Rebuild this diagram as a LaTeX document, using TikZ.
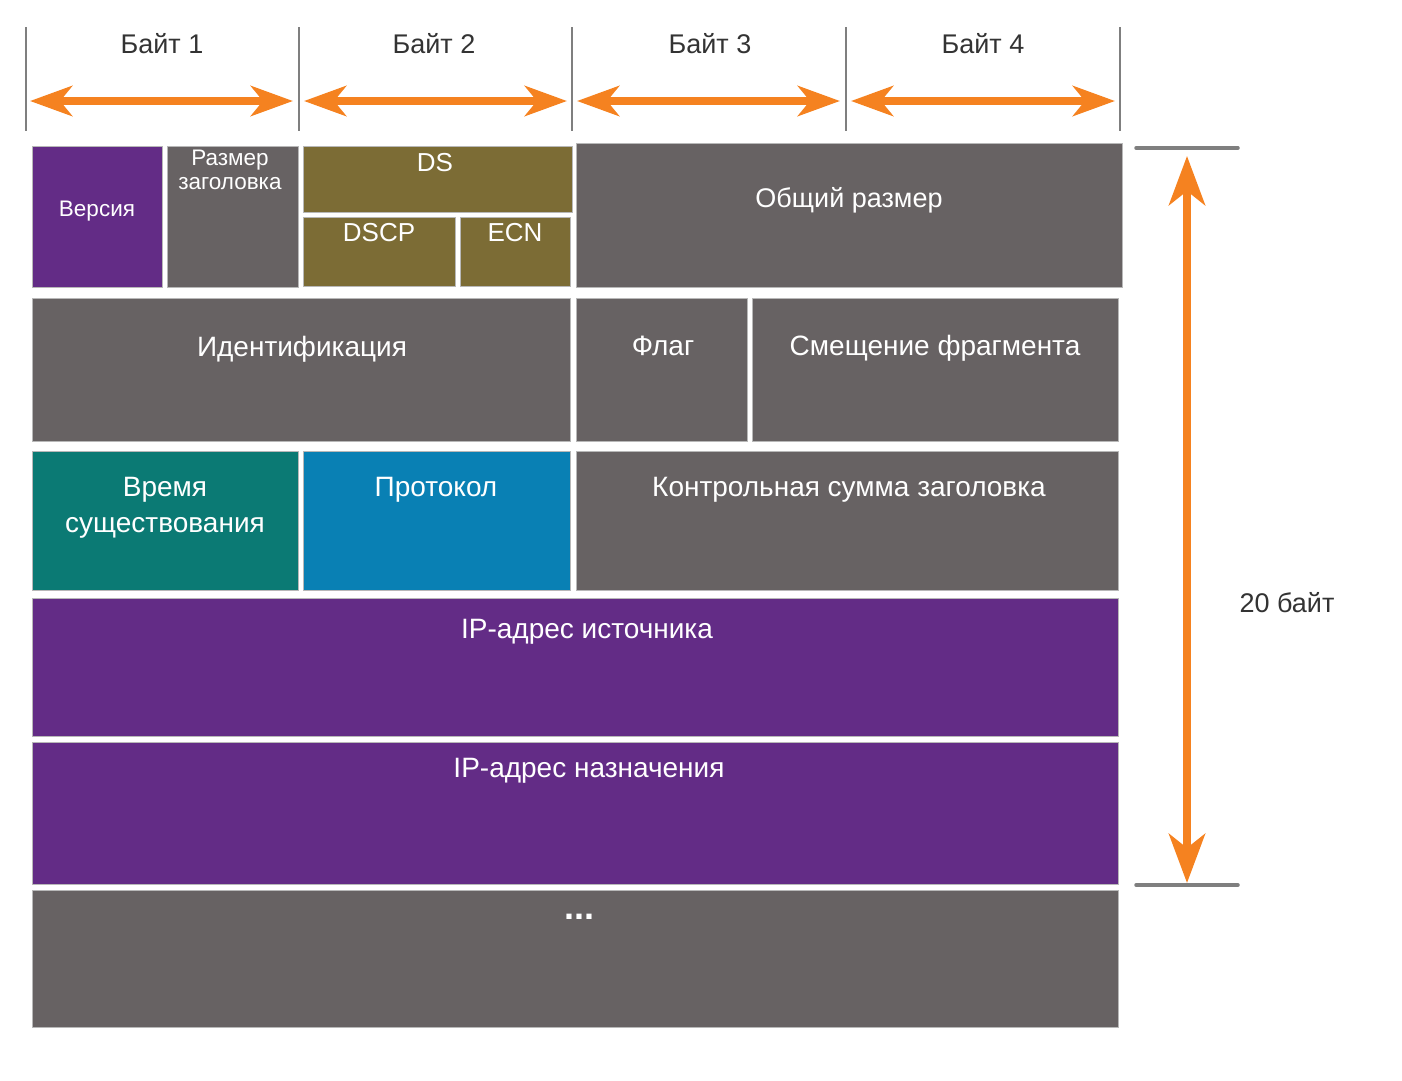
\documentclass[tikz,border=0pt]{standalone}
\usepackage{fontspec}
\setmainfont{Liberation Sans}
\usetikzlibrary{arrows.meta}
\definecolor{cpurple}{HTML}{632C86}
\definecolor{cgray}{HTML}{676263}
\definecolor{colive}{HTML}{7C6C35}
\definecolor{cteal}{HTML}{0B7A74}
\definecolor{cblue}{HTML}{0980B4}
\definecolor{corange}{HTML}{F58220}
\definecolor{ctick}{HTML}{7F7F7F}
\definecolor{ctext}{HTML}{333333}
\definecolor{cedge}{HTML}{B8B8B8}
\begin{document}
\begin{tikzpicture}[x=1pt,y=-1pt,
  cell/.style={draw=cedge, line width=0.8pt, inner sep=0pt, outer sep=0pt, anchor=north west},
  lbl/.style={text=white, anchor=base, inner sep=0pt, font=\fontsize{28}{32}\selectfont},
  smalllbl/.style={lbl, font=\fontsize{22.5}{26}\selectfont},
  dslbl/.style={lbl, font=\fontsize{26}{30}\selectfont},
  hdr/.style={text=ctext, anchor=base, inner sep=0pt, font=\fontsize{27}{32}\selectfont},
  tick/.style={draw=ctick, line width=2.5pt},
  sizeline/.style={draw=ctick, line width=3.5pt, line cap=round},
  bytearrow/.style={draw=corange, line width=8pt, {Stealth[length=42pt, width=30pt, inset=12pt]}-{Stealth[length=42pt, width=30pt, inset=12pt]}},
  sizearrow/.style={draw=corange, line width=8pt, {Stealth[length=49pt, width=36pt, inset=14pt]}-{Stealth[length=49pt, width=36pt, inset=14pt]}}
]
\useasboundingbox (0,0) rectangle (1402,1080);

% header ticks
\foreach \x [count=\i] in {26,299,572,846,1120} {
  \coordinate (tt\i) at (\x,27);
  \coordinate (tb\i) at (\x,131);
  \draw[tick] (tt\i) -- (tb\i);
}
% byte arrows
\coordinate (a1l) at (30,101);  \coordinate (a1r) at (293,101);
\coordinate (a2l) at (304,101); \coordinate (a2r) at (567,101);
\coordinate (a3l) at (577,101); \coordinate (a3r) at (840,101);
\coordinate (a4l) at (851,101); \coordinate (a4r) at (1115,101);
\draw[bytearrow] (a1l) -- (a1r);
\draw[bytearrow] (a2l) -- (a2r);
\draw[bytearrow] (a3l) -- (a3r);
\draw[bytearrow] (a4l) -- (a4r);
\node[hdr] (b1) at (162,53) {Байт 1};
\node[hdr] (b2) at (434,53) {Байт 2};
\node[hdr] (b3) at (710,53) {Байт 3};
\node[hdr] (b4) at (983,53) {Байт 4};

% cells
\node[cell, fill=cpurple, minimum width=130pt, minimum height=141pt] (ver)   at (32,146) {};
\node[cell, fill=cgray,   minimum width=131pt, minimum height=141pt] (hlen)  at (167,146) {};
\node[cell, fill=colive,  minimum width=269pt, minimum height=66pt]  (ds)    at (303,146) {};
\node[cell, fill=colive,  minimum width=152pt, minimum height=69pt]  (dscp)  at (303,217) {};
\node[cell, fill=colive,  minimum width=110pt, minimum height=69pt]  (ecn)   at (460,217) {};
\node[cell, fill=cgray,   minimum width=546pt, minimum height=144pt] (tot)   at (576,143) {};
\node[cell, fill=cgray,   minimum width=538pt, minimum height=143pt] (ident) at (32,298) {};
\node[cell, fill=cgray,   minimum width=171pt, minimum height=143pt] (flag)  at (576,298) {};
\node[cell, fill=cgray,   minimum width=366pt, minimum height=143pt] (frag)  at (752,298) {};
\node[cell, fill=cteal,   minimum width=266pt, minimum height=139pt] (ttl)   at (32,451) {};
\node[cell, fill=cblue,   minimum width=267pt, minimum height=139pt] (proto) at (303,451) {};
\node[cell, fill=cgray,   minimum width=542pt, minimum height=139pt] (csum)  at (576,451) {};
\node[cell, fill=cpurple, minimum width=1086pt, minimum height=138pt] (src) at (32,598) {};
\node[cell, fill=cpurple, minimum width=1086pt, minimum height=142pt] (dst) at (32,742) {};
\node[cell, fill=cgray,   minimum width=1086pt, minimum height=137pt] (opt) at (32,890) {};

% cell texts
\node[smalllbl] (tver)  at (97,216)  {Версия};
\node[smalllbl] (thl1)  at (230,165) {Размер};
\node[smalllbl] (thl2)  at (230,189) {заголовка};
\node[dslbl] (tds)   at (435,171) {DS};
\node[dslbl] (tdscp) at (379,241) {DSCP};
\node[dslbl] (tecn)  at (515,241) {ECN};
\node[lbl, font=\fontsize{27}{32}\selectfont] (ttot) at (849,207) {Общий размер};
\node[lbl] (tident) at (302,356) {Идентификация};
\node[lbl] (tflag)  at (663,355) {Флаг};
\node[lbl] (tfrag)  at (935,355) {Смещение фрагмента};
\node[lbl] (tttl1)  at (165,496) {Время};
\node[lbl] (tttl2)  at (165,532) {существования};
\node[lbl] (tproto) at (436,496) {Протокол};
\node[lbl] (tcsum)  at (849,496) {Контрольная сумма заголовка};
\node[lbl] (tsrc)   at (587,638) {IP-адрес источника};
\node[lbl] (tdst)   at (589,777) {IP-адрес назначения};
\node[lbl, font=\fontsize{36}{40}\bfseries\selectfont] (topt) at (579,919) {...};

% size indicator
\coordinate (s1l) at (1136,148); \coordinate (s1r) at (1238,148);
\coordinate (s2l) at (1136,885); \coordinate (s2r) at (1238,885);
\draw[sizeline] (s1l) -- (s1r);
\draw[sizeline] (s2l) -- (s2r);
\coordinate (sat) at (1187,156);
\coordinate (sab) at (1187,883);
\draw[sizearrow] (sat) -- (sab);
\node[hdr] (t20) at (1287,612) {20 байт};
\end{tikzpicture}
\end{document}
